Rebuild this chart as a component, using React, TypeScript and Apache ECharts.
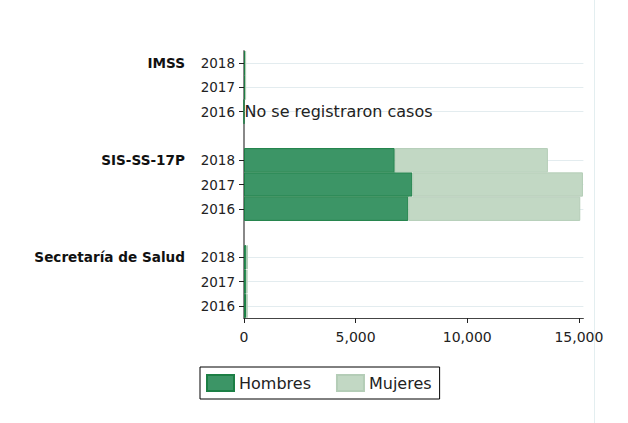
import React, { useEffect, useRef } from "react";
import * as echarts from "echarts";

const groups = ["IMSS", "SIS-SS-17P", "Secretaría de Salud"];
const years = ["2018", "2017", "2016"];
// values per group, in the order of `years`
const hombresIMSS = [70, 70, 0];
const mujeresIMSS = [0, 0, null];
const hombresSIS = [6750, 7540, 7360];
const mujeresSIS = [6860, 7640, 7700];
const hombresSS = [110, 100, 90];
const mujeresSS = [70, 60, 80];
const xTicks = [0, 5000, 10000, 15000];
const noCasesText = "No se registraron casos";

const hombresByGroup = [hombresIMSS, hombresSIS, hombresSS];
const mujeresByGroup = [mujeresIMSS, mujeresSIS, mujeresSS];

export default function App() {
  const ref = useRef<HTMLDivElement>(null);
  useEffect(() => {
    document.body.style.margin = "0";
    const chart = echarts.init(ref.current!, null, { renderer: "svg" });

    const categories: string[] = [];
    const hData: any[] = [];
    const mData: any[] = [];
    groups.forEach((g, gi) => {
      years.forEach((y, yi) => {
        categories.push(`${g}|${y}`);
        const h = hombresByGroup[gi][yi];
        const m = mujeresByGroup[gi][yi];
        if (h === 0 && (m === null || m === 0)) {
          hData.push({
            value: 0,
            label: {
              show: true,
              position: "right",
              distance: 0,
              formatter: noCasesText,
              fontSize: 16,
              color: "#222",
            },
          });
        } else {
          hData.push(h);
        }
        mData.push(m === null ? "-" : m);
      });
      if (gi < groups.length - 1) {
        categories.push(`gap${gi}`);
        hData.push("-");
        mData.push("-");
      }
    });
    const rowKeys = categories.filter((c) => !c.startsWith("gap"));

    chart.setOption({
      animation: false,
      textStyle: { fontFamily: "DejaVu Sans" },
      grid: { left: 244, top: 51, width: 339.4, height: 267, containLabel: false },
      xAxis: {
        type: "value",
        min: 0,
        max: 15200,
        interval: 5000,
        axisLine: { show: true, lineStyle: { color: "#444", width: 1 } },
        axisTick: { show: true, length: 5, customValues: xTicks, lineStyle: { color: "#222" } },
        splitLine: { show: false },
        axisLabel: {
          customValues: xTicks,
          fontSize: 14,
          color: "#222",
          margin: 12,
          formatter: (v: number) => v.toLocaleString("en-US"),
        },
      },
      yAxis: [
        {
          type: "category",
          data: categories,
          inverse: true,
          axisLine: { show: true, lineStyle: { color: "#888", width: 2 } },
          axisTick: {
            show: true,
            alignWithLabel: true,
            length: 5,
            interval: (i: number, v: string) => !v.startsWith("gap"),
            lineStyle: { color: "#222" },
          },
          axisLabel: {
            interval: 0,
            fontSize: 13.5,
            color: "#222",
            margin: 9,
            formatter: (v: string) => (v.startsWith("gap") ? "" : v.split("|")[1]),
          },
          splitLine: { show: false },
        },
        {
          type: "category",
          data: categories,
          inverse: true,
          position: "left",
          axisLine: { show: false },
          axisTick: { show: false },
          splitLine: { show: false },
          axisLabel: {
            interval: 0,
            fontSize: 13.6,
            fontWeight: "bold",
            color: "#111",
            margin: 59,
            formatter: (v: string) => {
              if (v.startsWith("gap")) return "";
              const [g, y] = v.split("|");
              return y === years[0] ? g : "";
            },
          },
        },
      ],
      legend: {
        data: ["Hombres", "Mujeres"],
        left: 200,
        top: 367,
        orient: "horizontal",
        icon: "rect",
        itemWidth: 27,
        itemHeight: 16,
        itemGap: 25,
        padding: [7, 8, 7, 6],
        borderColor: "#000",
        borderWidth: 1,
        textStyle: { fontSize: 16, color: "#222" },
      },
      graphic: [
        {
          type: "line",
          shape: { x1: 594.5, y1: 0, x2: 594.5, y2: 423 },
          style: { stroke: "#e3eef0", lineWidth: 1 },
          silent: true,
        },
      ],
      series: [
        {
          type: "line",
          name: "_grid",
          data: [],
          yAxisIndex: 0,
          z: 1,
          markLine: {
            silent: true,
            z: 1,
            symbol: "none",
            label: { show: false },
            lineStyle: { color: "#e3ecef", width: 1, type: "solid" },
            data: rowKeys.map((k) => ({ yAxis: k })),
          },
        },
        {
          type: "bar",
          name: "Hombres",
          stack: "total",
          barCategoryGap: "0%",
          yAxisIndex: 0,
          z: 2,
          data: hData,
          itemStyle: { color: "#3c9566", borderColor: "#1c7f45", borderWidth: 1 },
        },
        {
          type: "bar",
          name: "Mujeres",
          stack: "total",
          barCategoryGap: "0%",
          yAxisIndex: 0,
          z: 2,
          data: mData,
          itemStyle: { color: "#c2d8c4", borderColor: "#b4cdb7", borderWidth: 1 },
        },
      ],
    });
    return () => chart.dispose();
  }, []);
  return <div ref={ref} style={{ width: 628, height: 423 }} />;
}
